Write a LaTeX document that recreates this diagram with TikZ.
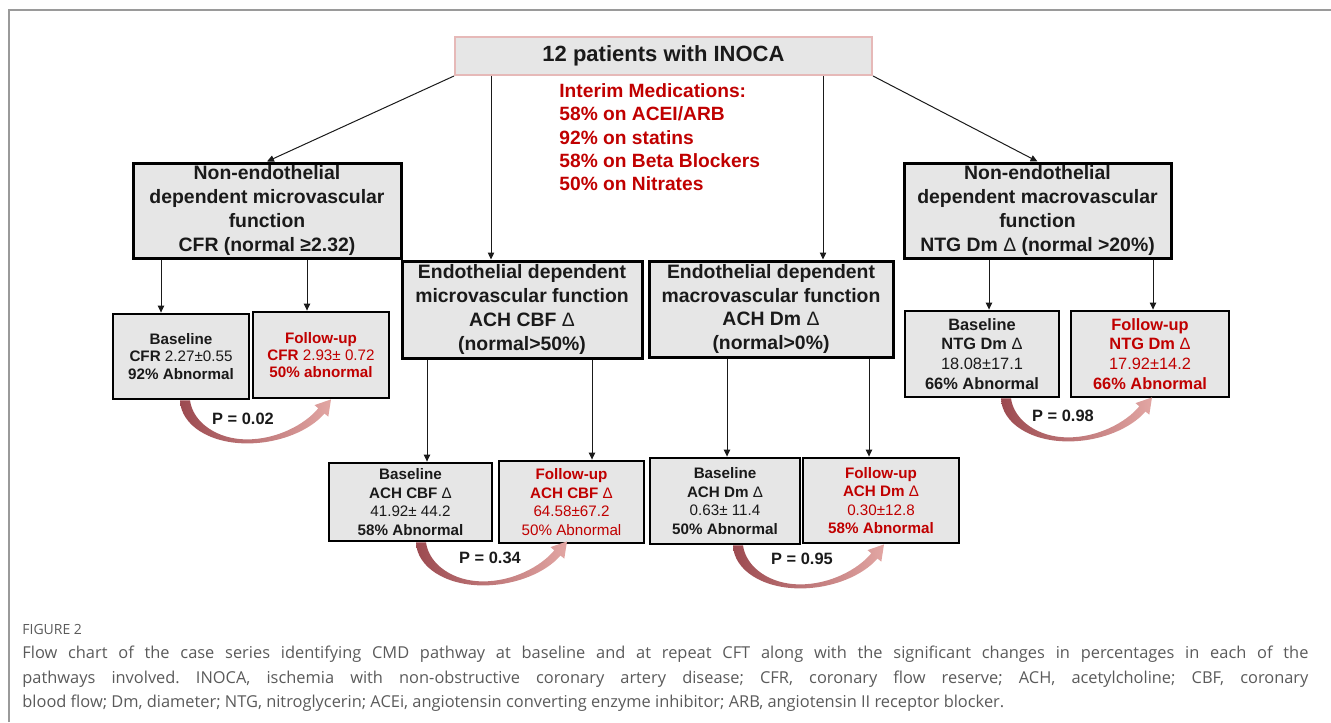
\documentclass[tikz,border=0pt]{standalone}
\usepackage{fontspec}
\setmainfont{Liberation Sans}
\newfontfamily\capfont{Open Sans}
\usetikzlibrary{arrows.meta,calc}

\definecolor{boxgray}{HTML}{E6E6E6}
\definecolor{medred}{HTML}{C00000}
\definecolor{toppink}{HTML}{E6B9B8}
\definecolor{pdark}{HTML}{9C4A50}
\definecolor{plight}{HTML}{E2A6A3}
\definecolor{inkblack}{HTML}{1A1A1A}
\definecolor{capgray}{HTML}{5A5A5A}
\definecolor{framegray}{HTML}{9A9A9A}

\newcommand{\reg}[1]{{\mdseries #1}}
\newcommand{\dlt}{{\mdseries Δ}}

\tikzset{
	bigbox/.style={draw=black,line width=1.5pt,fill=boxgray,align=center,inner sep=0pt,text=inkblack,font=\fontsize{9.7}{11.85}\selectfont\bfseries},
	smallbox/.style={draw=black,line width=1.4pt,fill=boxgray,align=center,inner sep=0pt,text=inkblack,font=\fontsize{7.6}{8.6}\selectfont\bfseries},
	redtext/.style={text=medred},
	arr/.style={-{Triangle[length=3.5pt,width=3.2pt]},line width=0.5pt,inkblack},
	plabel/.style={inner sep=0pt,text=inkblack,font=\fontsize{8.2}{9}\selectfont\bfseries},
	pval/.pic={
		\shade[left color=pdark,right color=plight]
			(-5,0) .. controls (-4,25) and (25,43) .. (62,43)
			.. controls (95,43) and (125,30) .. (139.5,13.1)
			-- (143.3,16.3) -- (146,-1) -- (129.5,4.7) -- (133.3,7.9)
			.. controls (120,24) and (92,39) .. (62,39)
			.. controls (32,39) and (8,22) .. (5,0) -- cycle;
	}
}

\begin{document}
\begin{tikzpicture}[x=0.5pt,y=-0.5pt]
	\useasboundingbox (0,0) rectangle (1331,722);
	\draw[framegray,line width=0.75pt] (9,722) -- (9,10) -- (1331,10);

	\node[draw=toppink,line width=1pt,fill=boxgray,minimum width=208.5pt,minimum height=19pt,inner sep=0pt,text=inkblack,font=\fontsize{11}{13}\selectfont\bfseries] (top) at (663.5,56) {12 patients with INOCA};
	\node[anchor=north west,inner sep=0pt,align=left,text=medred,font=\fontsize{9.6}{11.7}\selectfont\bfseries] (meds) at (559,83) {Interim Medications:\\58\% on ACEI/ARB\\92\% on statins\\58\% on Beta Blockers\\50\% on Nitrates};

	\node[bigbox,minimum width=134pt,minimum height=47.5pt] (nmicro) at (267,210.5) {Non-endothelial\\dependent microvascular\\function\\CFR (normal ≥2.32)};
	\node[bigbox,minimum width=133.5pt,minimum height=47.5pt] (nmacro) at (1037.5,210.5) {Non-endothelial\\dependent macrovascular\\function\\NTG Dm \dlt{} (normal >20\%)};
	\node[bigbox,minimum width=120pt,minimum height=48.5pt] (emicro) at (522,309.5) {Endothelial dependent\\microvascular function\\ACH CBF \dlt\\(normal>50\%)};
	\node[bigbox,minimum width=122pt,minimum height=48pt] (emacro) at (771,309) {Endothelial dependent\\macrovascular function\\ACH Dm \dlt\\(normal>0\%)};

	\node[smallbox,minimum width=68pt,minimum height=42.5pt] (b1) at (181,356.5) {Baseline\\CFR \reg{2.27±0.55}\\92\% Abnormal};
	\node[smallbox,redtext,minimum width=68pt,minimum height=43pt] (f1) at (321,355) {Follow-up\\CFR \reg{2.93± 0.72}\\50\% abnormal};
	\node[smallbox,font=\fontsize{7.6}{9.2}\selectfont\bfseries,minimum width=81.5pt,minimum height=39pt] (b2) at (410.5,502) {Baseline\\ACH CBF \dlt\\\reg{41.92± 44.2}\\58\% Abnormal};
	\node[smallbox,redtext,font=\fontsize{7.6}{9.2}\selectfont\bfseries,minimum width=72.5pt,minimum height=41pt] (f2) at (571.5,502) {Follow-up\\ACH CBF \dlt\\\reg{64.58±67.2}\\\reg{50\% Abnormal}};
	\node[smallbox,font=\fontsize{7.6}{9.2}\selectfont\bfseries,minimum width=75pt,minimum height=43pt] (b3) at (725,501) {Baseline\\ACH Dm \dlt\\\reg{0.63± 11.4}\\50\% Abnormal};
	\node[smallbox,redtext,font=\fontsize{7.6}{9.2}\selectfont\bfseries,minimum width=78pt,minimum height=42.5pt] (f3) at (881,500.5) {Follow-up\\ACH Dm \dlt\\\reg{0.30±12.8}\\58\% Abnormal};
	\node[smallbox,font=\fontsize{8.2}{9.9}\selectfont\bfseries,minimum width=77pt,minimum height=43pt] (b4) at (982,354) {Baseline\\NTG Dm \dlt\\\reg{18.08±17.1}\\66\% Abnormal};
	\node[smallbox,redtext,font=\fontsize{8.2}{9.9}\selectfont\bfseries,minimum width=79pt,minimum height=43pt] (f4) at (1150,354) {Follow-up\\NTG Dm \dlt\\\reg{17.92±14.2}\\66\% Abnormal};

	% x positions of the vertical connectors
	\coordinate (xemi) at (491,0);
	\coordinate (xema) at (823,0);
	\coordinate (xb1) at (161,0);
	\coordinate (xf1) at (307,0);
	\coordinate (xb2) at (427,0);
	\coordinate (xf2) at (592,0);
	\coordinate (xb3) at (727,0);
	\coordinate (xf3) at (869,0);
	\coordinate (xb4) at (989,0);
	\coordinate (xf4) at (1153,0);

	\draw[arr] (top.south west) -- (nmicro.north);
	\draw[arr] (top.south east) -- (nmacro.north);
	\draw[arr] (top.south -| xemi) -- (emicro.north -| xemi);
	\draw[arr] (top.south -| xema) -- (emacro.north -| xema);
	\draw[arr] (nmicro.south -| xb1) -- (b1.north -| xb1);
	\draw[arr] (nmicro.south -| xf1) -- (f1.north -| xf1);
	\draw[arr] (emicro.south -| xb2) -- (b2.north -| xb2);
	\draw[arr] (emicro.south -| xf2) -- (f2.north -| xf2);
	\draw[arr] (emacro.south -| xb3) -- (b3.north -| xb3);
	\draw[arr] (emacro.south -| xf3) -- (f3.north -| xf3);
	\draw[arr] (nmacro.south -| xb4) -- (b4.north -| xb4);
	\draw[arr] (nmacro.south -| xf4) -- (f4.north -| xf4);

	\path ($(b1.south)+(4,0)$) pic {pval};
	\path ($(b2.south)+(10.5,0)$) pic {pval};
	\path ($(b3.south)+(13,0)$) pic {pval};
	\path ($(b4.south)+(24,0)$) pic {pval};

	\node[plabel] (p1) at (243,419) {P = 0.02};
	\node[plabel] (p2) at (490,558) {P = 0.34};
	\node[plabel] (p3) at (802,559) {P = 0.95};
	\node[plabel] (p4) at (1063,416) {P = 0.98};

	\node[anchor=west,inner sep=0pt,text=capgray,font=\capfont\fontsize{7}{8}\selectfont] (fig) at (22,629) {FIGURE 2};
	\node[anchor=north west,inner sep=0pt,text width=643pt,align=justify,text=capgray,font=\capfont\fontsize{8.2}{12.25}\selectfont\frenchspacing] (cap) at (22,646) {Flow chart of the case series identifying CMD pathway at baseline and at repeat CFT along with the significant changes in percentages in each of the\linebreak pathways involved. INOCA, ischemia with non-obstructive coronary artery disease; CFR, coronary flow reserve; ACH, acetylcholine; CBF, coronary\linebreak blood flow; Dm, diameter; NTG, nitroglycerin; ACEi, angiotensin converting enzyme inhibitor; ARB, angiotensin II receptor blocker.};
\end{tikzpicture}
\end{document}
